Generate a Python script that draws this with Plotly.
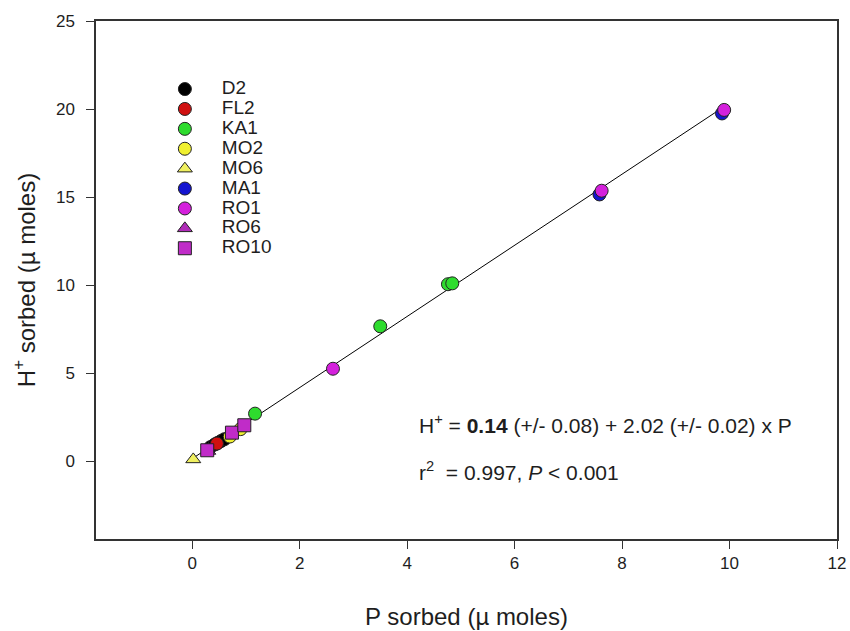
import plotly.graph_objects as go

# ---- data ----
series_names = ["D2", "FL2", "KA1", "MO2", "MO6", "MA1", "RO1", "RO6", "RO10"]

d2_x = [0.34, 0.42, 0.48, 0.54, 0.60]
d2_y = [0.80, 0.95, 1.05, 1.15, 1.25]
fl2_x = [0.46]
fl2_y = [1.00]
ka1_x = [1.17, 3.50, 4.76, 4.84]
ka1_y = [2.70, 7.66, 10.05, 10.10]
mo2_x = [0.70, 0.90]
mo2_y = [1.40, 1.82]
mo6_x = [0.02]
mo6_y = [0.10]
ma1_x = [7.58, 9.86]
ma1_y = [15.15, 19.75]
ro1_x = [2.62, 7.62, 9.90]
ro1_y = [5.25, 15.36, 19.95]
ro6_x = [0.30]
ro6_y = [0.58]
ro10_x = [0.28, 0.74, 0.97]
ro10_y = [0.62, 1.62, 2.04]

# regression coefficients (from the printed equation)
intercept = 0.14
slope = 2.02

x_ticks = [0, 2, 4, 6, 8, 10, 12]
y_ticks = [0, 5, 10, 15, 20, 25]

fig = go.Figure()

all_x = d2_x + fl2_x + ka1_x + mo2_x + mo6_x + ma1_x + ro1_x + ro6_x + ro10_x
x_line = [min(all_x), max(all_x)]
y_line = [intercept + slope * v for v in x_line]
fig.add_trace(go.Scatter(x=x_line, y=y_line, mode="lines",
                         line=dict(color="black", width=1), showlegend=False,
                         hoverinfo="skip"))

specs = [
    ("D2", d2_x, d2_y, "circle", "#000000"),
    ("FL2", fl2_x, fl2_y, "circle", "#d01010"),
    ("KA1", ka1_x, ka1_y, "circle", "#2edc2e"),
    ("MO2", mo2_x, mo2_y, "circle", "#f0f030"),
    ("MO6", mo6_x, mo6_y, "triangle-up", "#f0f060"),
    ("MA1", ma1_x, ma1_y, "circle", "#1414d0"),
    ("RO1", ro1_x, ro1_y, "circle", "#d420dc"),
    ("RO6", ro6_x, ro6_y, "triangle-up", "#b02cb8"),
    ("RO10", ro10_x, ro10_y, "square", "#c02cc8"),
]
for name, xs, ys, sym, col in specs:
    fig.add_trace(go.Scatter(
        x=xs, y=ys, mode="markers",
        name="<span style='font-size:19px'>" + name + "</span>",
        marker=dict(symbol=sym, color=col, size=13,
                    line=dict(color="#222222", width=1)),
    ))

font_family = "Liberation Sans, Arial, sans-serif"
txt = "#1e1e1e"

fig.update_layout(
    width=850, height=631,
    paper_bgcolor="white", plot_bgcolor="white",
    margin=dict(l=96, r=13, t=21, b=92, autoexpand=False),
    font=dict(family=font_family, size=17, color=txt),
    showlegend=True,
    legend=dict(x=0.070, y=0.8975, xanchor="left", yanchor="top",
                bgcolor="rgba(0,0,0,0)", font=dict(size=13, color=txt),
                itemwidth=64, tracegroupgap=0),
    xaxis=dict(range=[-1.79, 12], tickvals=x_ticks, ticktext=[str(v) for v in x_ticks],
               showgrid=False, zeroline=False, showline=True, linecolor="#333333",
               linewidth=1.5, mirror=True, ticks="outside", ticklen=8,
               tickcolor="#333333", tickfont=dict(size=17), automargin=False,
               title=dict(text="P sorbed (\u00b5 moles)", font=dict(size=24), standoff=36)),
    yaxis=dict(range=[-4.42, 25], tickvals=y_ticks, ticktext=[str(v) for v in y_ticks],
               showgrid=False, zeroline=False, showline=True, linecolor="#333333",
               linewidth=1.5, mirror=True, ticks="outside", ticklen=8,
               tickcolor="#333333", tickfont=dict(size=17), ticklabelstandoff=8,
               automargin=False,
               title=dict(text="H<sup>+</sup> sorbed (\u00b5 moles)", font=dict(size=24), standoff=14)),
    annotations=[
        dict(xref="paper", yref="paper", x=0.433, y=0.222, xanchor="left", yanchor="middle",
             text="H<sup>+</sup> = <b>0.14</b> (+/- 0.08) + 2.02 (+/- 0.02) x P",
             showarrow=False, font=dict(size=21, color=txt)),
        dict(xref="paper", yref="paper", x=0.433, y=0.131, xanchor="left", yanchor="middle",
             text="r<sup>2</sup>  = 0.997, <i>P</i> < 0.001",
             showarrow=False, font=dict(size=21, color=txt)),
    ],
)

fig.write_html("out.html",
               config={"displayModeBar": False},
               post_script="document.body.style.margin='0';document.body.style.overflow='hidden';")
